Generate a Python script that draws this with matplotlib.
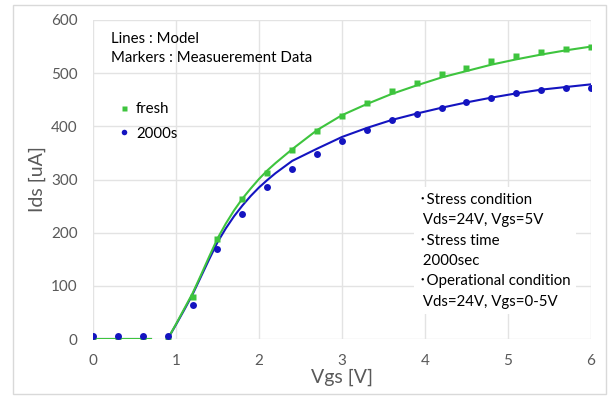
import matplotlib
matplotlib.use("Agg")
import matplotlib.pyplot as plt
from matplotlib.patches import Rectangle

plt.rcParams['font.family'] = ['Lato', 'Noto Sans CJK JP', 'DejaVu Sans']

# measured Ids-Vgs points
vgs_meas = [0.0, 0.3, 0.6, 0.9, 1.2, 1.5, 1.8, 2.1, 2.4, 2.7, 3.0,
            3.3, 3.6, 3.9, 4.2, 4.5, 4.8, 5.1, 5.4, 5.7, 6.0]
ids_fresh = [0, 0, 0, 0, 79, 188, 263, 312, 355, 391, 419,
             443, 466, 482, 498, 510, 522, 533, 539, 545, 550]
ids_2000s = [5, 5, 5, 5, 64, 170, 235, 286, 320, 348, 372,
             393, 411, 423, 434, 446, 454, 462, 468, 472, 473]

# model curves (off region and above-threshold region)
vgs_off = [0.0, 0.7]
ids_off = [0, 0]
vgs_model = [0.9, 1.0, 1.1, 1.2, 1.3, 1.4, 1.5, 1.6, 1.7, 1.8, 1.9, 2.0,
             2.1, 2.2, 2.4, 2.7, 3.0, 3.3, 3.6, 3.9, 4.2, 4.5, 4.8,
             5.1, 5.4, 5.7, 6.0]
model_fresh = [0, 28, 57, 86, 120, 155, 189, 217, 242, 264, 283, 301,
               317, 331, 357, 393, 421, 442, 461, 477, 492, 504, 516,
               526, 535, 543, 550]
model_2000s = [0, 27, 55, 84, 117, 150, 182, 208, 231, 251, 269, 285,
               299, 312, 335, 358, 380, 397, 412, 424, 435, 445, 454,
               462, 469, 474, 479]

green = "#3ec43e"
blue = "#1414c0"
gray = "#595959"

fig = plt.figure(figsize=(6.13, 3.96), dpi=100)
ax = fig.add_axes([0.1517, 0.1439, 0.8124, 0.8056])

ax.plot(vgs_off, ids_off, color=blue, lw=1.5)
ax.plot(vgs_off, ids_off, color=green, lw=1.5)
ax.plot(vgs_model, model_2000s, color=blue, lw=1.5)
ax.plot(vgs_model, model_fresh, color=green, lw=1.5)
ax.plot(vgs_meas, ids_fresh, 's', color=green, ms=4.5, mec='none', label='fresh')
ax.plot(vgs_meas, ids_2000s, 'o', color=blue, ms=5, mec='none', label='2000s')

ax.set_xlim(0, 6)
ax.set_ylim(0, 600)
ax.set_xticks(range(0, 7))
ax.set_yticks(range(0, 700, 100))
ax.grid(True, color="#e3e3e3", lw=1)
ax.set_axisbelow(True)
for s in ax.spines.values():
    s.set_visible(False)
ax.tick_params(length=0, labelsize=11, labelcolor=gray)
ax.tick_params(axis='x', pad=11)
ax.tick_params(axis='y', pad=11)
ax.set_xlabel("Vgs [V]", fontsize=14, color=gray, labelpad=0)
ax.set_ylabel("Ids [uA]", fontsize=14, color=gray, labelpad=4)

ax.text(0.036, 0.962, "Lines : Model\nMarkers : Measuerement Data",
        transform=ax.transAxes, fontsize=10.8, va='top', linespacing=1.4)
ax.legend(loc='upper left', bbox_to_anchor=(0.02, 0.785), frameon=False,
          fontsize=10.8, handletextpad=0.3, labelspacing=0.7,
          markerscale=0.8, handlelength=1.0)

# test conditions box
notes = ("\uff65Stress condition\n Vds=24V, Vgs=5V\n\uff65Stress time\n 2000sec\n"
         "\uff65Operational condition\n Vds=24V, Vgs=0-5V")
ax.text(0.655, 0.458, notes, transform=ax.transAxes, fontsize=10.8, va='top',
        linespacing=1.58, bbox=dict(facecolor='white', edgecolor='none', pad=4))

fig.add_artist(Rectangle((13 / 613, 2 / 396), 593 / 613, 389 / 396,
                         transform=fig.transFigure, fill=False,
                         edgecolor="#d9d9d9", lw=1))

fig.savefig("out.png", dpi=100)
